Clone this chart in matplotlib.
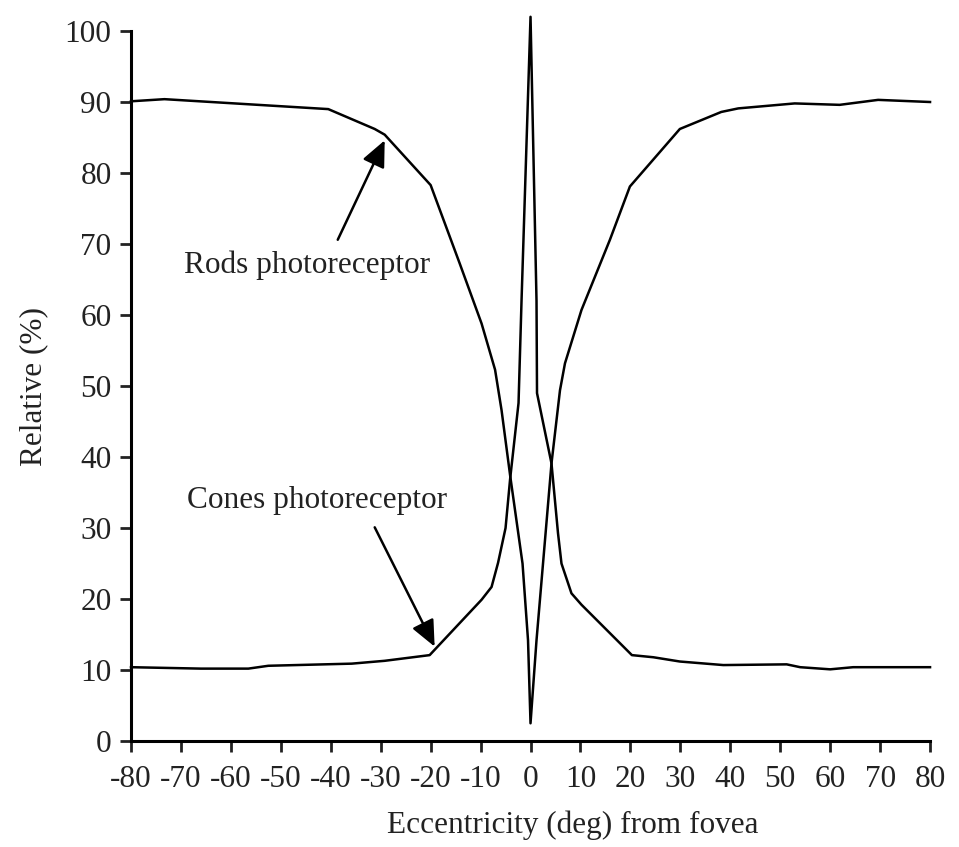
#-----------------------------------------------------------------------------
# Relative density of rods and cones vs. eccentricity from the fovea
#-----------------------------------------------------------------------------

import matplotlib
matplotlib.use("Agg")
import matplotlib.pyplot as plt

plt.rcParams['font.family'] = ['Liberation Serif', 'DejaVu Serif']
plt.rcParams['axes.unicode_minus'] = False

# Rods photoreceptor (eccentricity in deg, relative %)
rods_x = [-80, -73.3, -40.5, -31.2, -29.2, -20.0, -14.2, -9.8, -7.1, -5.8, -4.1,
          -1.6, -0.5, 0, 1.2, 2.9, 4.2, 5.9, 6.9, 10.2, 15.9, 19.9, 29.9,
          38.2, 41.6, 52.9, 61.9, 69.6, 80]
rods_y = [90.1, 90.4, 89.0, 86.2, 85.4, 78.3, 67.3, 58.8, 52.3, 46.6, 37.5,
          25.0, 14.2, 2.5, 14.2, 28.3, 39.1, 49.4, 53.2, 60.7, 70.6, 78.1, 86.2,
          88.6, 89.1, 89.8, 89.6, 90.3, 90.0]

# Cones photoreceptor
cones_x = [-80, -66, -56.5, -52.5, -35.8, -29.2, -20.2, -9.8, -7.8, -6.5,
           -5.0, -4.1, -2.4, -1.8, 0, 1.2, 1.3, 4.2, 5.5, 6.2, 8.2, 10.2,
           20.3, 24.6, 29.9, 38.6, 51.3, 54, 60, 64.6, 80]
cones_y = [10.4, 10.2, 10.2, 10.6, 10.9, 11.3, 12.1, 19.9, 21.7, 25.1,
           30.0, 36.8, 47.6, 62.0, 102.0, 62.0, 49.0, 39.1, 29.3, 25.0, 20.8, 19.2,
           12.1, 11.8, 11.2, 10.7, 10.8, 10.4, 10.1, 10.4, 10.4]

xticks = list(range(-80, 81, 10))
yticks = list(range(0, 101, 10))

fs = 22.5
ink = "#222222"

fig = plt.figure(figsize=(9.59, 8.47), dpi=100)
ax = fig.add_axes([0.1366, 0.1251, 0.8332, 0.8383])

ax.plot(rods_x, rods_y, color="black", linewidth=1.8, clip_on=False)
ax.plot(cones_x, cones_y, color="black", linewidth=1.8, clip_on=False)

# annotations
ax.text(-69.3, 65.9, "Rods photoreceptor", fontsize=fs, ha="left", va="baseline", color=ink)
ax.text(-68.7, 32.8, "Cones photoreceptor", fontsize=fs, ha="left", va="baseline", color=ink)
arrow = dict(arrowstyle="-|>,head_length=0.8,head_width=0.36", color="black",
             lw=1.8, shrinkA=0, shrinkB=0, mutation_scale=20)
ax.annotate("", xy=(-29.2, 84.6), xytext=(-38.6, 70.6), arrowprops=arrow)
ax.annotate("", xy=(-19.2, 13.3), xytext=(-31.2, 30.1), arrowprops=arrow)

ax.set_xlim(-80, 80)
ax.set_ylim(0, 100)
ax.set_xticks(xticks)
ax.set_yticks(yticks)
ax.tick_params(direction="out", length=8, width=2, labelsize=fs, colors=ink)
ax.tick_params(axis="x", pad=9)
ax.tick_params(axis="y", pad=6)

for s in ["top", "right"]:
    ax.spines[s].set_visible(False)
for s in ["left", "bottom"]:
    ax.spines[s].set_linewidth(2.2)

ax.set_xlabel("Eccentricity (deg) from fovea", fontsize=fs, color=ink)
ax.xaxis.set_label_coords(0.553, -0.098)
ax.set_ylabel("Relative (%)", fontsize=fs, color=ink, labelpad=12)

plt.savefig("out.png", dpi=100)
